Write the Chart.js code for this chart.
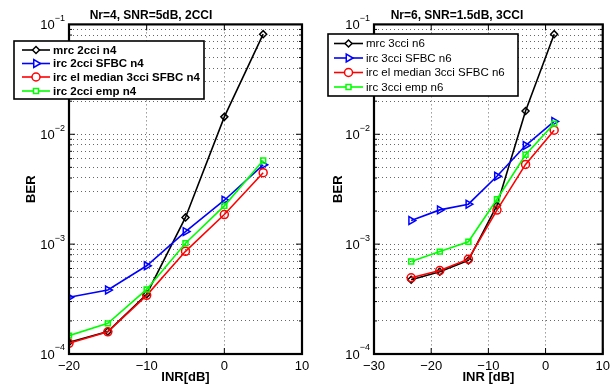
<!DOCTYPE html>
<html><head><meta charset="utf-8">
<script src="https://cdn.jsdelivr.net/npm/chart.js@4/dist/chart.umd.min.js"></script>
<style>
body{margin:0;background:#fff;}
#wrap{position:relative;width:615px;height:385px;overflow:hidden;}
canvas{position:absolute;top:0;}
</style></head><body>
<div id="wrap">
<canvas id="c1" width="320" height="385" style="left:0"></canvas>
<canvas id="c2" width="308" height="385" style="left:307px"></canvas>
</div>
<script>
// left panel: Nr=4, SNR=5dB, 2CCI
var inrLeft = [-20, -15, -10, -5, 0, 5];
var mrcLeft = [1.28e-4, 1.6e-4, 3.5e-4, 1.75e-3, 1.44e-2, 8.15e-2];
var sfbcLeft = [3.28e-4, 3.82e-4, 6.35e-4, 1.3e-3, 2.51e-3, 5.27e-3];
var medianLeft = [1.25e-4, 1.59e-4, 3.42e-4, 8.6e-4, 1.86e-3, 4.47e-3];
var empLeft = [1.47e-4, 1.9e-4, 3.87e-4, 1.02e-3, 2.23e-3, 5.78e-3];
var labelsLeft = ['mrc 2cci n4', 'irc 2cci SFBC n4', 'irc el median 3cci SFBC n4', 'irc 2cci emp n4'];

// right panel: Nr=6, SNR=1.5dB, 3CCI
var inrRight = [-23.5, -18.5, -13.5, -8.5, -3.5, 1.5];
var mrcRight = [4.74e-4, 5.6e-4, 7.1e-4, 2.25e-3, 1.63e-2, 8.15e-2];
var sfbcRight = [1.64e-3, 2.05e-3, 2.31e-3, 4.15e-3, 7.9e-3, 1.31e-2];
var medianRight = [4.94e-4, 5.75e-4, 7.3e-4, 2.04e-3, 5.32e-3, 1.09e-2];
var empRight = [6.95e-4, 8.55e-4, 1.05e-3, 2.56e-3, 6.5e-3, 1.25e-2];
var labelsRight = ['mrc 3cci n6', 'irc 3cci SFBC n6', 'irc el median 3cci SFBC n6', 'irc 3cci emp n6'];

var berTicks = [1e-4, 1e-3, 1e-2, 1e-1];
var berExponents = ['\u22124', '\u22123', '\u22122', '\u22121'];
var colors = ['#000000', '#0000ff', '#ff0000', '#00ff00'];
var markers = [
  {style: 'rectRot', radius: 3.5, rot: 0},
  {style: 'triangle', radius: 4.5, rot: 90},
  {style: 'circle', radius: 4, rot: 0},
  {style: 'rect', radius: 3.5, rot: 0}
];

var FONT = "'Liberation Sans', Arial, sans-serif";

function makeSet(i, label, xs, ys) {
  var pts = [];
  for (var k = 0; k < xs.length; k++) pts.push({x: xs[k], y: ys[k]});
  return {
    label: label,
    data: pts,
    borderColor: colors[i],
    backgroundColor: 'rgba(0,0,0,0)',
    borderWidth: 1.6,
    pointStyle: markers[i].style,
    pointRotation: markers[i].rot,
    pointRadius: markers[i].radius,
    pointBorderWidth: 1.5,
    pointBorderColor: colors[i],
    pointBackgroundColor: 'rgba(0,0,0,0)',
    tension: 0,
    order: 3 - i
  };
}

// box, inside ticks, 10^n labels and legend, MATLAB style
var matlabPlugin = {
  id: 'matlab',
  afterDraw: function(chart, args, opts) {
    var ctx = chart.ctx, a = chart.chartArea;
    var xs = chart.scales.x, ys = chart.scales.y;
    ctx.save();
    ctx.strokeStyle = '#000';
    ctx.lineWidth = 1;
    ctx.beginPath();
    for (var e = 0; e < 3; e++) {
      for (var m = 1; m <= 9; m++) {
        var py = ys.getPixelForValue(m * berTicks[e]);
        var len = m === 1 ? 6 : 3;
        ctx.moveTo(a.left, py); ctx.lineTo(a.left + len, py);
        ctx.moveTo(a.right, py); ctx.lineTo(a.right - len, py);
      }
    }
    for (var t = xs.min; t <= xs.max; t += 10) {
      var px = xs.getPixelForValue(t);
      ctx.moveTo(px, a.bottom); ctx.lineTo(px, a.bottom - 6);
      ctx.moveTo(px, a.top); ctx.lineTo(px, a.top + 6);
    }
    ctx.stroke();
    ctx.lineWidth = 2.2;
    ctx.strokeRect(a.left, a.top, a.right - a.left, a.bottom - a.top);

    // y tick labels as 10 with raised exponent
    ctx.fillStyle = '#000';
    ctx.textBaseline = 'middle';
    berTicks.forEach(function(v, k) {
      var py = ys.getPixelForValue(v);
      ctx.font = '9px ' + FONT;
      ctx.textAlign = 'right';
      var ew = ctx.measureText(berExponents[k]).width;
      ctx.fillText(berExponents[k], a.left - 4, py - 6);
      ctx.font = '13px ' + FONT;
      ctx.fillText('10', a.left - 4 - ew, py + 1);
    });

    // legend
    var L = opts;
    ctx.textAlign = 'left';
    ctx.fillStyle = '#fff';
    ctx.fillRect(L.x, L.y, L.w, L.h);
    ctx.strokeStyle = '#000';
    ctx.lineWidth = 1.6;
    ctx.strokeRect(L.x, L.y, L.w, L.h);
    chart.data.datasets.forEach(function(ds, i) {
      var ry = L.rows[i];
      ctx.strokeStyle = ds.borderColor;
      ctx.lineWidth = 1.6;
      ctx.beginPath();
      ctx.moveTo(L.lx0, ry); ctx.lineTo(L.lx1, ry);
      ctx.stroke();
      ctx.lineWidth = 1.5;
      ctx.fillStyle = '#fff';
      Chart.helpers.drawPoint(ctx, {
        pointStyle: ds.pointStyle, rotation: ds.pointRotation,
        radius: ds.pointRadius, borderWidth: 1.5
      }, (L.lx0 + L.lx1) / 2, ry);
      ctx.fillStyle = '#000';
      ctx.font = L.font;
      ctx.fillText(ds.label, L.tx, ry + 0.5);
    });
    ctx.restore();
  }
};

function makeChart(id, title, xs, series, labels, xmin, xtitle, padRight, yWidth, legend) {
  var sets = [];
  for (var i = 0; i < 4; i++) sets.push(makeSet(i, labels[i], xs, series[i]));
  return new Chart(document.getElementById(id), {
    type: 'line',
    data: {datasets: sets},
    plugins: [matlabPlugin],
    options: {
      responsive: false,
      animation: false,
      layout: {padding: {left: 0, right: padRight, top: 0, bottom: 0}},
      plugins: {
        legend: {display: false},
        tooltip: {enabled: false},
        title: {
          display: true, text: title, color: '#000',
          font: {family: FONT, size: 12, weight: 'bold'},
          padding: {top: 8, bottom: 2}
        },
        matlab: legend
      },
      scales: {
        x: {
          type: 'linear', min: xmin, max: 10,
          ticks: {
            stepSize: 10, color: '#000', padding: 5,
            font: {family: FONT, size: 13},
            callback: function(v) { return v < 0 ? '\u2212' + Math.abs(v) : '' + v; }
          },
          grid: {color: 'rgba(0,0,0,0.6)', lineWidth: 1, drawTicks: false},
          border: {display: false, dash: [1, 3]},
          title: {display: true, text: xtitle, color: '#000', padding: {top: 0, bottom: 0},
                  font: {family: FONT, size: 13, weight: 'bold'}},
          afterFit: function(s) { s.height = 31; }
        },
        y: {
          type: 'logarithmic', min: 1e-4, max: 1e-1,
          afterBuildTicks: function(s) {
            var t = [];
            for (var e = 0; e < 3; e++)
              for (var m = 1; m <= 9; m++) t.push({value: m * berTicks[e]});
            t.push({value: berTicks[3]});
            s.ticks = t;
          },
          ticks: {
            color: '#000', padding: 5, autoSkip: false,
            font: {family: FONT, size: 13},
            callback: function() { return ''; }
          },
          grid: {color: 'rgba(0,0,0,0.6)', lineWidth: 1, drawTicks: false},
          border: {display: false, dash: [1, 3]},
          title: {display: true, text: 'BER', color: '#000', padding: {top: 24, bottom: 0},
                  font: {family: FONT, size: 13, weight: 'bold'}},
          afterFit: function(s) { s.width = yWidth; }
        }
      }
    }
  });
}

makeChart('c1', 'Nr=4, SNR=5dB, 2CCI', inrLeft,
  [mrcLeft, sfbcLeft, medianLeft, empLeft], labelsLeft, -20, 'INR[dB]', 18, 69,
  {x: 14, y: 41, w: 190, h: 58, rows: [50, 63.5, 77, 91], lx0: 22, lx1: 50, tx: 53,
   font: 'bold 11.5px ' + FONT});

makeChart('c2', 'Nr=6, SNR=1.5dB, 3CCI', inrRight,
  [mrcRight, sfbcRight, medianRight, empRight], labelsRight, -30, 'INR [dB]', 8, 67,
  {x: 21, y: 34, w: 190, h: 62, rows: [43.5, 58, 72.5, 87], lx0: 27, lx1: 56, tx: 59,
   font: '11.5px ' + FONT});
</script>
</body></html>
